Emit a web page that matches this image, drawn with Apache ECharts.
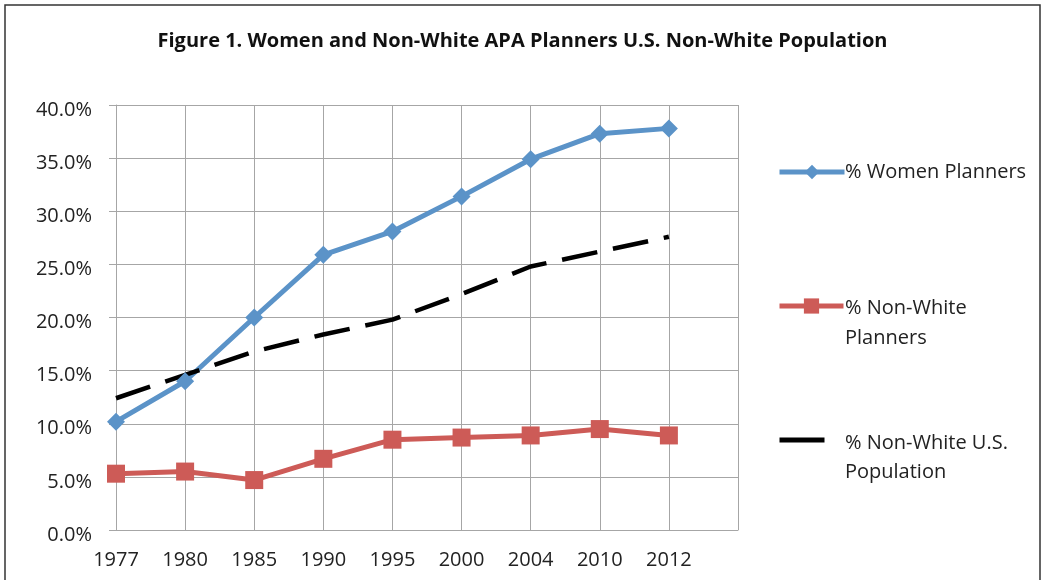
<!DOCTYPE html>
<html>
<head>
<meta charset="utf-8">
<script src="https://cdn.jsdelivr.net/npm/echarts@6/dist/echarts.min.js"></script>
<style>
html,body{margin:0;padding:0;background:#fff;}
#chart{width:1045px;height:580px;}
</style>
</head>
<body>
<div id="chart"></div>
<script>
const years = ['1977','1980','1985','1990','1995','2000','2004','2010','2012',''];
const womenPlanners = [10.2, 14.0, 20.0, 25.9, 28.1, 31.4, 34.9, 37.3, 37.8];
const nonWhitePlanners = [5.3, 5.5, 4.7, 6.7, 8.5, 8.7, 8.9, 9.5, 8.9];
const nonWhitePopulation = [12.4, 14.6, 16.8, 18.4, 19.8, 22.2, 24.8, 26.2, 27.6];
const seriesNames = ['% Women Planners', '% Non-White Planners', '% Non-White U.S. Population'];
const legendLines = [['% Women Planners'], ['% Non-White', 'Planners'], ['% Non-White U.S.', 'Population']];
const titleText = 'Figure 1. Women and Non-White APA Planners U.S. Non-White Population';

const FONT = '"Open Sans", sans-serif';
const chart = echarts.init(document.getElementById('chart'), null, {renderer: 'canvas'});

// legend layout (icon centre y, icon width, icon height)
const legendIconY = [172, 306, 440];
const legendIconW = [65, 64, 45];
const legendIconH = [18, 19, 10];
const legendTextY = [[172], [308, 338], [443, 472]];

const legendTexts = [];
legendLines.forEach((lines, i) => {
  lines.forEach((t, j) => {
    legendTexts.push({
      type: 'text', left: 845, top: legendTextY[i][j] - 10, silent: true,
      style: {text: t, fill: '#222', font: '20px ' + FONT}
    });
  });
});

const option = {
  animation: false,
  backgroundColor: '#fff',
  title: {
    text: titleText, left: 'center', top: 26,
    textStyle: {fontFamily: FONT, fontWeight: 'bold', fontSize: 20, color: '#111'}
  },
  graphic: [{
    type: 'rect', shape: {x: 5, y: 5, width: 1035, height: 620},
    style: {fill: 'none', stroke: '#333', lineWidth: 1.5}, silent: true
  }].concat(legendTexts),
  legend: [0, 1, 2].map(i => ({
    data: [seriesNames[i]], left: 777, top: legendIconY[i] - legendIconH[i] / 2,
    padding: 0, itemWidth: legendIconW[i], itemHeight: legendIconH[i], itemGap: 0,
    formatter: () => '',
    selectedMode: false,
    lineStyle: {width: 5, type: 'solid'},
    itemStyle: i === 2 ? {color: 'rgba(0,0,0,0)', borderWidth: 0} : {}
  })),
  grid: {left: 116, right: 307, top: 105, bottom: 50, containLabel: false},
  xAxis: {
    type: 'category', data: years, boundaryGap: false,
    axisLine: {lineStyle: {color: '#a6a6a6', width: 1}},
    axisTick: {show: false},
    axisLabel: {color: '#222', fontFamily: FONT, fontSize: 20, margin: 20, interval: 0},
    splitLine: {show: true, lineStyle: {color: '#a6a6a6', width: 1}}
  },
  yAxis: {
    type: 'value', min: 0, max: 40, interval: 5,
    axisLine: {show: true, lineStyle: {color: '#a6a6a6', width: 1}},
    axisTick: {show: true, length: 7, lineStyle: {color: '#a6a6a6'}},
    axisLabel: {margin: 24,
      formatter: v => '{a|' + v.toFixed(1) + '%}',
      rich: {a: {color: '#222', fontFamily: FONT, fontSize: 20, padding: [10, 0, 0, 0]}}},
    splitLine: {show: true, lineStyle: {color: '#a6a6a6', width: 1}}
  },
  series: [
    {
      name: seriesNames[0], type: 'line', data: womenPlanners,
      symbol: 'diamond', symbolSize: 18, showAllSymbol: true,
      lineStyle: {color: '#5b93c8', width: 5},
      itemStyle: {color: '#5b93c8'}
    },
    {
      name: seriesNames[1], type: 'line', data: nonWhitePlanners,
      symbol: 'rect', symbolSize: 18, showAllSymbol: true,
      lineStyle: {color: '#cd5b57', width: 5},
      itemStyle: {color: '#cd5b57'}
    },
    {
      name: seriesNames[2], type: 'line', data: nonWhitePopulation,
      symbol: 'circle', showSymbol: false,
      lineStyle: {color: '#000', width: 4.5, type: [36, 16]},
      itemStyle: {color: '#000'}
    }
  ]
};
chart.setOption(option);
</script>
</body>
</html>
